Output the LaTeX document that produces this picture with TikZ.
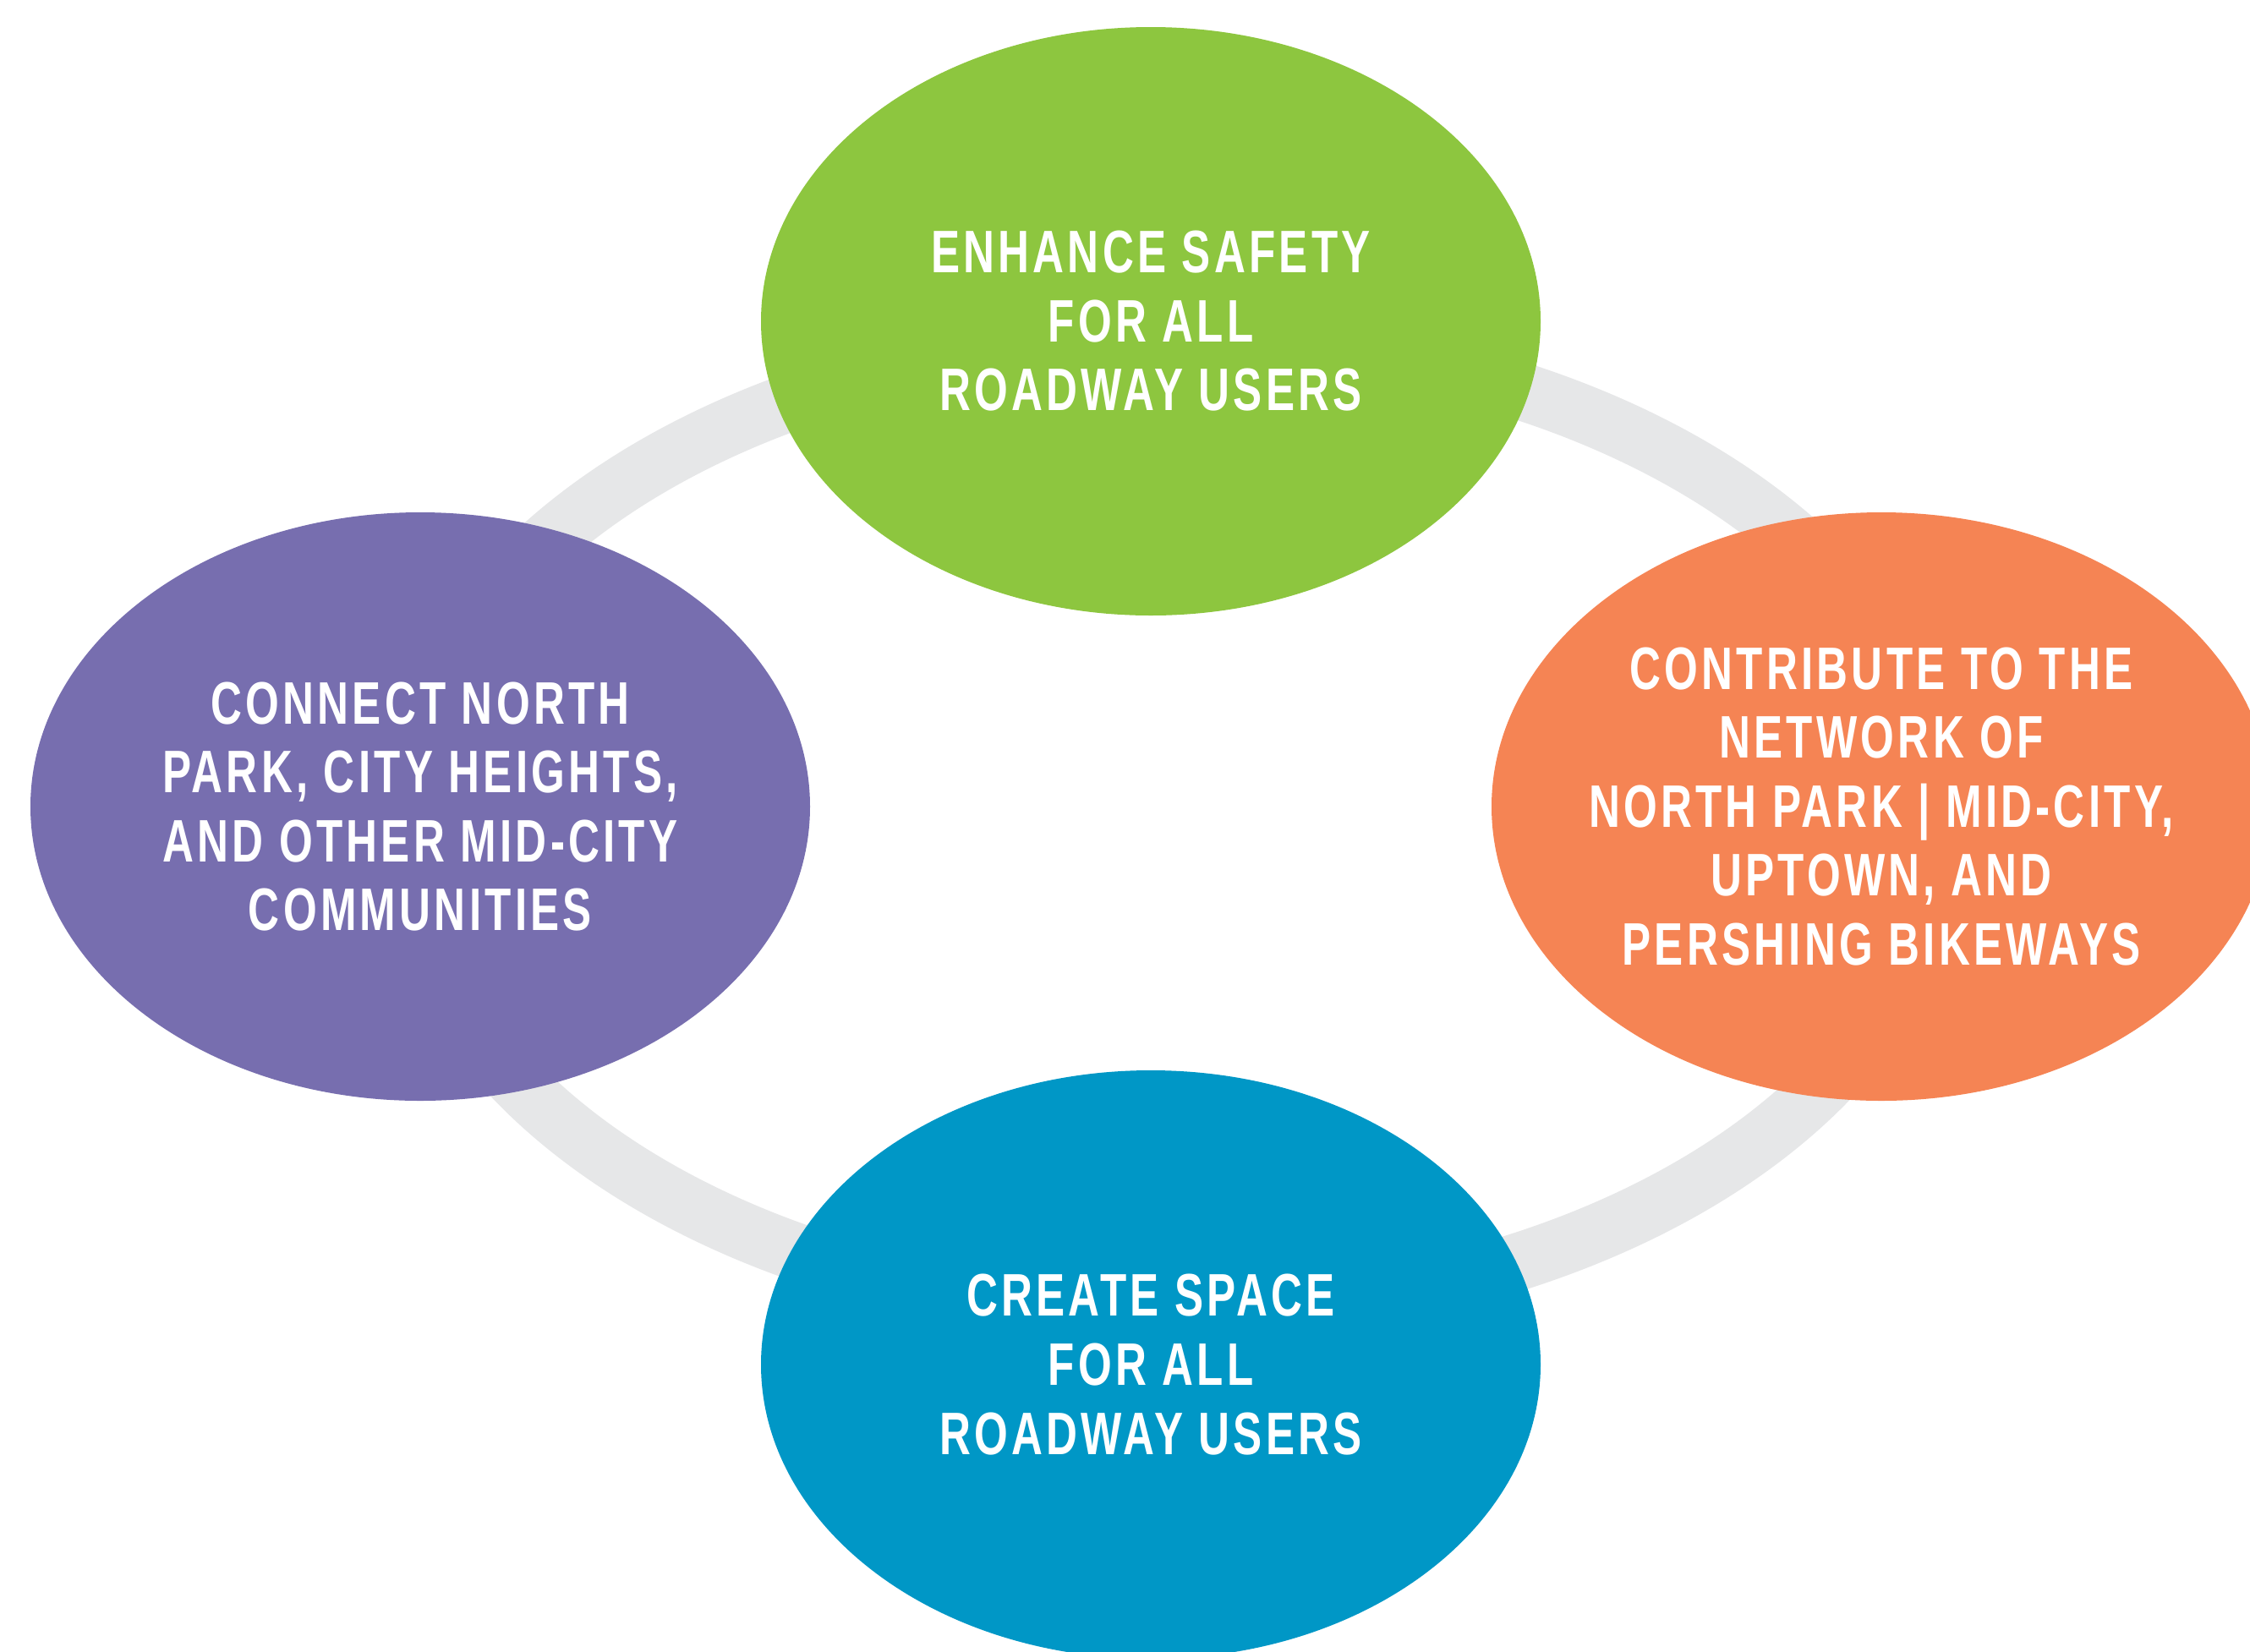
\documentclass[tikz,border=0pt]{standalone}
\usepackage{fontspec}
\usetikzlibrary{shapes.geometric}
\newfontfamily\goalfont[FakeStretch=0.72,LetterSpace=6]{Liberation Sans}
\definecolor{goalgreen}{HTML}{8DC63F}
\definecolor{goalpurple}{HTML}{776EAF}
\definecolor{goalorange}{HTML}{F58454}
\definecolor{goalblue}{HTML}{0097C6}
\definecolor{ringgray}{HTML}{E6E7E8}
\begin{document}
\begin{tikzpicture}[g/.style={ellipse,fill=#1,text=white,minimum width=9.22cm,minimum height=6.96cm,inner xsep=-1cm,inner ysep=0pt,align=center,font=\goalfont\bfseries\fontsize{20.2}{23.2}\selectfont}, r/.style={draw=ringgray,line width=0.68cm}]
\useasboundingbox (0,0) rectangle (26.61,-19.54);
\clip (0,0) rectangle (26.61,-19.54);
\coordinate (c) at (13.86,-9.77);
\draw[r] (c) ellipse [x radius=9.10, y radius=5.77];
\node[g=goalgreen] (1) at (13.61,-3.80) {ENHANCE SAFETY\\FOR ALL\\ROADWAY USERS};
\node[g=goalpurple] (2) at (4.97,-9.54) {CONNECT NORTH\\PARK, CITY HEIGHTS,\\AND OTHER MID-CITY\\COMMUNITIES};
\node[g=goalorange] (3) at (22.25,-9.54) {CONTRIBUTE TO THE\\NETWORK OF\\NORTH PARK | MID-CITY,\\UPTOWN, AND\\PERSHING BIKEWAYS};
\node[g=goalblue] (4) at (13.61,-16.14) {CREATE SPACE\\FOR ALL\\ROADWAY USERS};
\end{tikzpicture}
\end{document}
